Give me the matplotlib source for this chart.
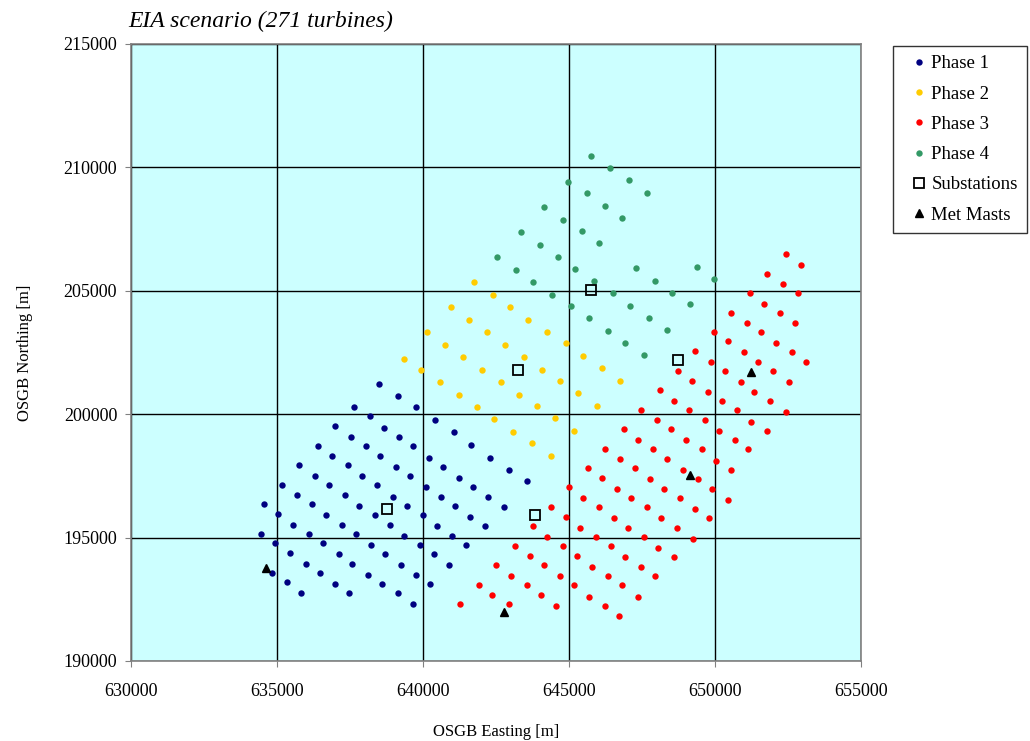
import matplotlib.pyplot as plt

# Turbine positions, OSGB easting / northing [m]
phase1_east = [638500, 639140, 639770, 637640, 638180, 640410, 637000, 638660, 637540, 639190,
               636410, 638060, 639670, 636890, 638540, 640210, 635770, 637430, 639080, 640680,
               636310, 637920, 639570, 635180, 636790, 638440, 640090, 635670, 637320, 638980,
               640600, 634540, 636200, 637800, 639450, 635030, 636690, 638340, 639990, 635560,
               637220, 638870, 640480, 634440, 636090, 637700, 639350, 634920, 636570, 638230,
               639890, 635450, 637110, 638700, 640370, 635990, 637580, 639240, 640900, 634820,
               636470, 638120, 639770, 635350, 637000, 638600, 640250, 635830, 637480, 639140,
               639660, 641060, 641640, 642290, 642930, 643570, 641220, 641700, 642230, 642770,
               641100, 641600, 642130, 641000, 641480]
phase1_north = [201230, 200720, 200280, 200280, 199910, 199770, 199510, 199440, 199070, 199070,
                198690, 198690, 198690, 198310, 198310, 198240, 197920, 197920, 197860, 197860,
                197480, 197480, 197480, 197110, 197110, 197110, 197040, 196730, 196730, 196660,
                196660, 196350, 196350, 196280, 196280, 195970, 195900, 195900, 195900, 195520,
                195520, 195520, 195450, 195140, 195140, 195140, 195080, 194770, 194770, 194700,
                194700, 194390, 194320, 194320, 194320, 193940, 193940, 193870, 193870, 193560,
                193560, 193500, 193500, 193180, 193110, 193110, 193110, 192740, 192740, 192740,
                192290, 199270, 198750, 198240, 197740, 197290, 197420, 197040, 196660, 196230,
                196280, 195850, 195470, 195080, 194700]

phase2_east = [641750, 642390, 640950, 642970, 641580, 643610, 640150, 642180, 644260, 640740,
               642810, 644900, 639340, 641380, 643450, 645480, 639930, 642020, 644090, 646130,
               640580, 642660, 644680, 646740, 641220, 643290, 645320, 641860, 643890, 645970,
               642440, 644520, 643080, 645160, 643730, 644370]
phase2_north = [205340, 204840, 204330, 204330, 203830, 203830, 203320, 203320, 203320, 202810,
                202810, 202880, 202240, 202300, 202300, 202370, 201800, 201790, 201790, 201850,
                201290, 201290, 201350, 201350, 200780, 200780, 200850, 200280, 200340, 200340,
                199790, 199840, 199270, 199320, 198820, 198310]

phase3_east = [652420, 652950, 651780, 652320, 651200, 652850, 651680, 650560, 652210, 651090,
               652740, 649980, 651580, 650450, 652100, 649330, 650980, 652640, 649850, 651460,
               653120, 648740, 650350, 652000, 649220, 650880, 652530, 648100, 649750, 651350,
               648580, 650230, 651900, 647460, 649120, 650770, 652420, 648000, 649650, 651250,
               646870, 648480, 650130, 651780, 647360, 649010, 650670, 647890, 649550, 651140,
               646230, 648360, 650020, 646750, 647250, 648900, 650560, 645650, 647780, 649430,
               646130, 646660, 648260, 649910, 645010, 647130, 648800, 650450, 645490, 647680,
               649330, 646030, 644370, 648160, 649810, 644900, 646550, 647030, 648690, 643780,
               645380, 647560, 649230, 644260, 645910, 643150, 644800, 646450, 648040, 643670,
               645260, 646930, 648580, 642500, 644150, 645800, 647460, 643030, 644680, 646340,
               647940, 641920, 643570, 645160, 646820, 642380, 644040, 645700, 647360, 641270,
               642930, 644570, 646230, 646710]
phase3_north = [206490, 206050, 205670, 205290, 204910, 204910, 204460, 204090, 204090, 203700,
                203700, 203330, 203330, 202950, 202880, 202570, 202500, 202500, 202120, 202120,
                202120, 201730, 201730, 201730, 201350, 201290, 201290, 200970, 200900, 200900,
                200530, 200530, 200530, 200150, 200150, 200150, 200080, 199770, 199770, 199700,
                199390, 199390, 199320, 199320, 198940, 198940, 198940, 198570, 198570, 198570,
                198570, 198190, 198120, 198190, 197810, 197740, 197740, 197810, 197360, 197360,
                197430, 196980, 196980, 196980, 197040, 196600, 196600, 196540, 196600, 196230,
                196160, 196230, 196230, 195780, 195780, 195850, 195800, 195400, 195400, 195470,
                195400, 195020, 194960, 195020, 195020, 194640, 194640, 194640, 194570, 194270,
                194270, 194200, 194200, 193890, 193890, 193820, 193820, 193440, 193440, 193440,
                193440, 193060, 193060, 193060, 193060, 192670, 192670, 192610, 192610, 192290,
                192290, 192220, 192220, 191840]

phase4_east = [645750, 646390, 647040, 647680, 644960, 645600, 646230, 646830, 644150, 644790,
               645440, 646020, 643350, 643990, 644630, 645220, 645860, 642550, 643190, 643780,
               644420, 645060, 645700, 646330, 646930, 646500, 647080, 647300, 647940, 648530,
               649160, 649380, 649980, 647730, 648370, 647560]
phase4_north = [210480, 209970, 209470, 208970, 209400, 208970, 208450, 207950, 208390, 207880,
                207440, 206940, 207370, 206870, 206370, 205900, 205410, 206370, 205860, 205340,
                204840, 204390, 203900, 203380, 202880, 204910, 204390, 205920, 205410, 204910,
                204460, 205980, 205480, 203900, 203400, 202380]

substation_east = [638760, 643840, 643240, 645740, 648740]
substation_north = [196160, 195910, 201790, 205030, 202180]

mast_east = [634620, 642790, 649140, 651220]
mast_north = [193750, 191990, 197550, 201690]

plt.rcParams['font.family'] = ['Liberation Serif', 'DejaVu Serif']

fig = plt.figure(figsize=(10.3, 7.41), dpi=100)
ax = fig.add_axes([0.1272, 0.108, 0.7087, 0.8327])
ax.set_facecolor('#CCFFFF')

dot = dict(linestyle='none', marker='o', markersize=4.6, markeredgewidth=0)
ax.plot(phase1_east, phase1_north, color='#000080', label='Phase 1', **dot)
ax.plot(phase2_east, phase2_north, color='#FFCC00', label='Phase 2', **dot)
ax.plot(phase3_east, phase3_north, color='#FF0000', label='Phase 3', **dot)
ax.plot(phase4_east, phase4_north, color='#339966', label='Phase 4', **dot)
ax.plot(substation_east, substation_north, linestyle='none', marker='s', markersize=6.5,
        markerfacecolor='none', markeredgecolor='black', markeredgewidth=1.3, label='Substations')
ax.plot(mast_east, mast_north, linestyle='none', marker='^', markersize=5.5,
        color='black', label='Met Masts')

ax.set_xlim(630000, 655000)
ax.set_ylim(190000, 215000)
ax.set_xticks(range(630000, 655001, 5000))
ax.set_yticks(range(190000, 215001, 5000))
ax.tick_params(labelsize=13, length=4, color='#808080')
ax.tick_params(axis='x', pad=12)
ax.tick_params(axis='y', pad=6)
ax.grid(True, color='black', linewidth=1.0)
ax.set_axisbelow(True)
for spine in ax.spines.values():
    spine.set_color('#808080')
    spine.set_linewidth(1.2)

ax.set_xlabel('OSGB Easting [m]', fontsize=12, labelpad=17)
ax.set_ylabel('OSGB Northing [m]', fontsize=12, labelpad=22)
fig.text(0.125, 0.963, 'EIA scenario (271 turbines)', fontsize=17, style='italic')

leg = ax.legend(loc='upper left', bbox_to_anchor=(0.867, 0.938), bbox_transform=fig.transFigure,
                borderaxespad=0, fontsize=13.5, fancybox=False, edgecolor='black',
                handletextpad=-0.25, labelspacing=0.7, handlelength=1.8, borderpad=0.5)
leg.get_frame().set_linewidth(1.0)

fig.savefig('out.png', dpi=100)
